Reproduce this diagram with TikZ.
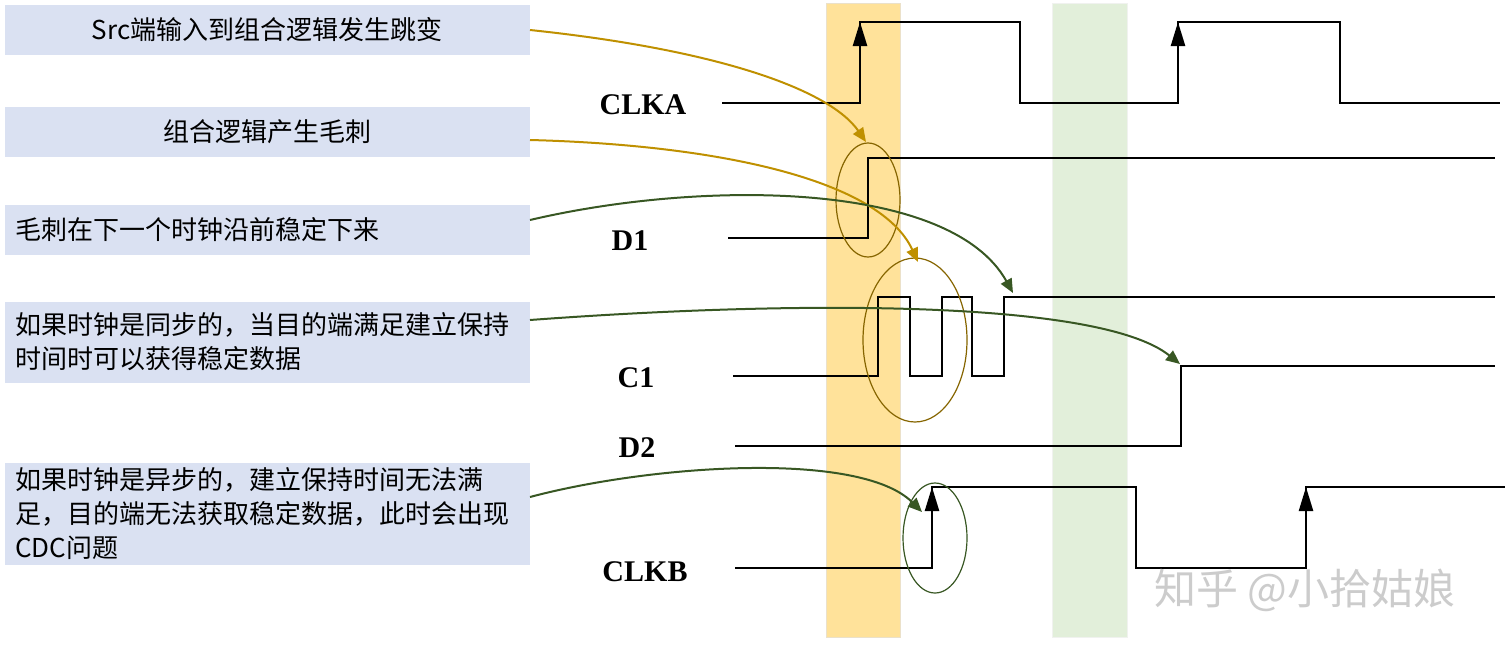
\documentclass[tikz,border=0pt]{standalone}
\usepackage{fontspec}
\setmainfont{Liberation Serif}
\newfontfamily\cjk{Noto Sans CJK SC}
\usetikzlibrary{arrows.meta}
\definecolor{boxb}{HTML}{DAE1F2}
\definecolor{gold}{HTML}{BF9000}
\definecolor{dgreen}{HTML}{385723}
\definecolor{bandO}{HTML}{FFE29A}
\definecolor{bandG}{HTML}{E2EFDA}
\begin{document}
\begin{tikzpicture}[x=0.5pt,y=-0.5pt,
 box/.style={fill=boxb,draw=none},
 btxt/.style={font=\cjk\fontsize{13}{17}\selectfont,align=left,anchor=west},
 lab/.style={font=\bfseries\fontsize{15}{18}\selectfont},
 wave/.style={line width=1.2pt},
 callG/.style={gold,line width=1pt,-{Triangle[length=7pt,width=6pt]}},
 callD/.style={dgreen,line width=1pt,-{Triangle[length=7pt,width=6pt]}},
 ck/.style={-{Triangle[length=12pt,width=7pt]},line width=1.2pt}]
\useasboundingbox (0,0) rectangle (1509,653);
% bands
\fill[bandO,draw=bandO!80!black!40] (826,3) rectangle (900,637);
\fill[bandG,draw=bandG!80!black!20] (1052,3) rectangle (1127,637);
% boxes
\fill[box] (5,5) rectangle (530,55);
\fill[box] (5,107) rectangle (530,157);
\fill[box] (5,205) rectangle (530,255);
\fill[box] (5,302) rectangle (530,383);
\fill[box] (5,463) rectangle (530,565);
\node[font=\cjk\fontsize{13}{17}\selectfont] (t1) at (267,30) {Src端输入到组合逻辑发生跳变};
\node[font=\cjk\fontsize{13}{17}\selectfont] (t2) at (267,132) {组合逻辑产生毛刺};
\node[btxt] (t3) at (8,230) {毛刺在下一个时钟沿前稳定下来};
\node[btxt] (t4) at (8,342) {如果时钟是同步的，当目的端满足建立保持\\时间时可以获得稳定数据};
\node[btxt] (t5) at (8,514) {如果时钟是异步的，建立保持时间无法满\\足，目的端无法获取稳定数据，此时会出现\\CDC问题};
% labels
\node[lab] (lA) at (643,105) {CLKA};
\node[lab] (lD1) at (630,241) {D1};
\node[lab] (lC1) at (636,378) {C1};
\node[lab] (lD2) at (637,448) {D2};
\node[lab] (lB) at (645,572) {CLKB};
% waves
\draw[wave] (722,103)--(860,103)--(860,22)--(1020,22)--(1020,103)--(1178,103)--(1178,22)--(1340,22)--(1340,103)--(1500,103);
\draw[ck] (860,60)--(860,22);
\draw[ck] (1178,60)--(1178,22);
\draw[wave] (728,238)--(868,238)--(868,158)--(1495,158);
\draw[wave] (733,376)--(878,376)--(878,297)--(910,297)--(910,376)--(942,376)--(942,297)--(972,297)--(972,376)--(1004,376)--(1004,297)--(1495,297);
\draw[wave] (735,446)--(1181,446)--(1181,366)--(1495,366);
\draw[wave] (735,568)--(932,568)--(932,487)--(1136,487)--(1136,568)--(1306,568)--(1306,487)--(1505,487);
\draw[ck] (932,525)--(932,487);
\draw[ck] (1306,525)--(1306,487);
% ellipses
\draw[gold!70!black,line width=0.6pt] (868,200) ellipse [x radius=32,y radius=57];
\draw[gold!70!black,line width=0.6pt] (915,340) ellipse [x radius=52,y radius=82];
\draw[dgreen,line width=0.6pt] (935,538) ellipse [x radius=32,y radius=55];
% callouts
\coordinate (e1) at (866,142);
\coordinate (e2) at (918,262);
\coordinate (e3) at (1013,293);
\coordinate (e4) at (1180,364);
\coordinate (e5) at (922,512);
\draw[callG] (530,30) .. controls (720,50) and (830,90) .. (e1);
\draw[callG] (530,140) .. controls (720,145) and (880,180) .. (e2);
\draw[callD] (530,220) .. controls (700,180) and (950,180) .. (e3);
\draw[callD] (530,320) .. controls (800,300) and (1100,300) .. (e4);
\draw[callD] (530,497) .. controls (650,465) and (860,450) .. (e5);
\node[font=\cjk\fontsize{21}{24}\selectfont,text=gray!40] (wm) at (1305,590) {知乎 @小拾姑娘};
\end{tikzpicture}
\end{document}
